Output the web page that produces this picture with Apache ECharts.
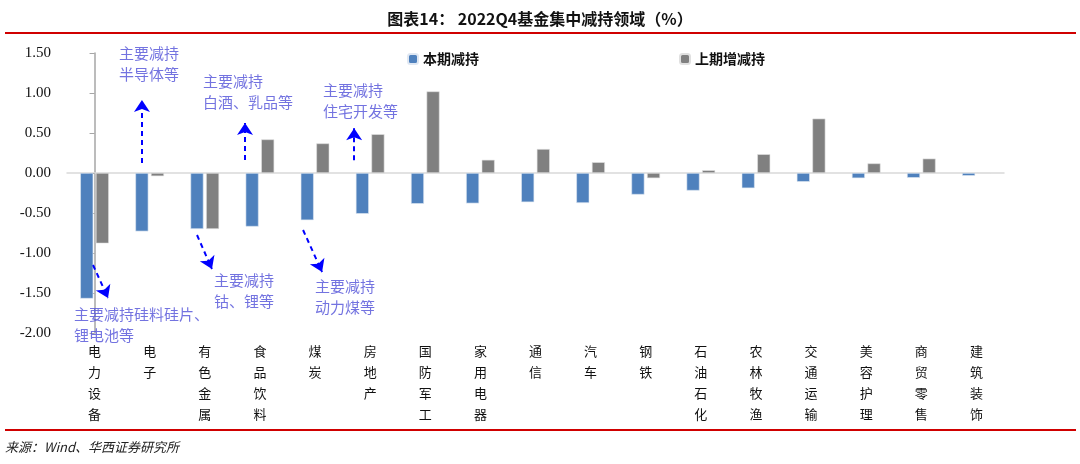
<!DOCTYPE html>
<html><head><meta charset="utf-8">
<script src="https://cdn.jsdelivr.net/npm/echarts@6/dist/echarts.min.js"></script>
<style>html,body{margin:0;padding:0;background:#fff}#c{width:1080px;height:464px}</style>
</head><body><div id="c"></div>
<script>
const categories = ['电力设备','电子','有色金属','食品饮料','煤炭','房地产','国防军工','家用电器','通信','汽车','钢铁','石油石化','农林牧渔','交通运输','美容护理','商贸零售','建筑装饰'];
const currentReduce = [-1.57,-0.73,-0.70,-0.67,-0.59,-0.51,-0.385,-0.38,-0.365,-0.375,-0.27,-0.22,-0.19,-0.11,-0.065,-0.06,-0.035];
const previousChange = [-0.88,-0.04,-0.70,0.42,0.37,0.485,1.02,0.165,0.30,0.135,-0.065,0.035,0.235,0.68,0.12,0.18,0];
const yTicks = [-2.0,-1.5,-1.0,-0.5,0,0.5,1.0,1.5];
// annotation arrows: [fromX, fromY, toX, toY] in (category index, value) units
const arrows = [
  [0.86,0.125,0.86,0.9125],
  [2.73,0.1625,2.73,0.625],
  [4.71,0.16,4.71,0.56],
  [-0.028,-1.15,0.244,-1.5625],
  [1.859,-0.775,2.13,-1.2],
  [3.783,-0.7125,4.128,-1.2375]
];
// annotation texts: [x, y, text]
const notes = [
  [0.444,1.625,'主要减持\n半导体等'],
  [1.968,1.275,'主要减持\n白酒、乳品等'],
  [4.146,1.1625,'主要减持\n住宅开发等'],
  [2.168,-1.2125,'主要减持\n钴、锂等'],
  [4.0,-1.2875,'主要减持\n动力煤等'],
  [-0.373,-1.6375,'主要减持硅料硅片、\n锂电池等']
];
const cjk = '"Noto Sans CJK SC", sans-serif';
const chart = echarts.init(document.getElementById('c'), null, {renderer:'canvas'});
chart.setOption({
  animation:false,
  backgroundColor:'#fff',
  title:{text:'图表14： 2022Q4基金集中减持领域（%）',left:'center',top:6,
    textStyle:{fontFamily:cjk,fontSize:16,fontWeight:'bold',color:'#111'}},
  legend:[
    {data:['本期减持'],left:402,top:47,itemWidth:10,itemHeight:10,
      textStyle:{fontFamily:cjk,fontSize:14,fontWeight:'bold',color:'#111'}},
    {data:['上期增减持'],left:674,top:47,itemWidth:10,itemHeight:10,
      textStyle:{fontFamily:cjk,fontSize:14,fontWeight:'bold',color:'#111'}}
  ],
  grid:{left:67,right:76,top:53,bottom:131,containLabel:false},
  xAxis:[
    {type:'category',data:categories,axisLine:{onZero:true,lineStyle:{color:'#d9d9d9',width:1.5}},
      axisTick:{show:false},axisLabel:{show:false}},
    {type:'category',data:categories,position:'bottom',axisLine:{show:false,onZero:false},axisTick:{show:false},
      axisLabel:{interval:0,margin:8,fontFamily:cjk,fontSize:13,lineHeight:21,color:'#111',
        formatter:v=>v.split('').join('\n'),verticalAlign:'top'}},
    {type:'value',min:-0.5,max:categories.length-0.5,show:false}
  ],
  yAxis:{type:'value',min:yTicks[0],max:yTicks[yTicks.length-1],interval:0.5,
    axisLine:{show:true,lineStyle:{color:'#a6a6a6',width:1.5}},
    axisTick:{show:true,inside:false,length:5,lineStyle:{color:'#a6a6a6'}},
    splitLine:{show:false},
    axisLabel:{formatter:v=>v.toFixed(2),fontFamily:'"Liberation Serif", serif',fontSize:15,color:'#111',margin:16}},
  series:[
    {name:'本期减持',type:'bar',data:currentReduce,barWidth:13,barGap:'20%',
      itemStyle:{color:'#4F81BD',borderColor:'#dfe7f2',borderWidth:0.6}},
    {name:'上期增减持',type:'bar',data:previousChange,barWidth:13,barGap:'20%',
      itemStyle:{color:'#808080',borderColor:'#e0e0e0',borderWidth:0.6}},
    {type:'lines',coordinateSystem:'cartesian2d',xAxisIndex:2,yAxisIndex:0,
      symbol:['none','arrow'],symbolSize:12,
      lineStyle:{color:'#0000FF',width:2,type:[5,4],opacity:1},
      data:arrows.map(a=>({coords:[[a[0],a[1]],[a[2],a[3]]]})),silent:true,z:5},
    {type:'scatter',xAxisIndex:2,yAxisIndex:0,symbolSize:0,silent:true,clip:false,
      data:notes.map(n=>({value:[n[0],n[1]],label:{formatter:n[2]}})),
      label:{show:true,position:'right',distance:0,align:'left',verticalAlign:'top',offset:[0,0],
        fontFamily:cjk,fontSize:15,lineHeight:21,color:'#5050D8'},z:6}
  ],
  graphic:[
    {type:'rect',shape:{x:5,y:32,width:1071,height:2},style:{fill:'#D00000'}},
    {type:'rect',shape:{x:5,y:429,width:1071,height:2},style:{fill:'#D00000'}},
    {type:'text',left:5,top:441,style:{text:'来源：Wind、华西证券研究所',fontFamily:cjk,fontSize:13,fontStyle:'italic',fill:'#222'}}
  ]
});
</script></body></html>
